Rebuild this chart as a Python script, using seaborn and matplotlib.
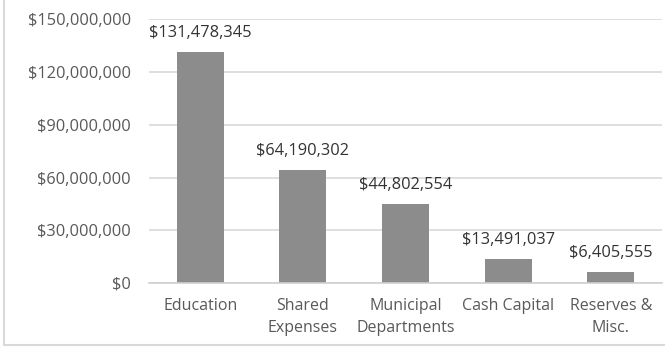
import matplotlib
matplotlib.use("Agg")
import matplotlib.pyplot as plt
import seaborn as sns
import pandas as pd
from matplotlib.ticker import FuncFormatter, FixedLocator
from matplotlib.lines import Line2D

categories = ["Education", "Shared\nExpenses", "Municipal\nDepartments", "Cash Capital", "Reserves &\nMisc."]
values = [131478345, 64190302, 44802554, 13491037, 6405555]
yticks = [0, 30000000, 60000000, 90000000, 120000000, 150000000]

df = pd.DataFrame({"category": categories, "value": values})

sns.set_theme(style="white")
plt.rcParams["font.family"] = ["Open Sans", "DejaVu Sans"]

fig = plt.figure(figsize=(6.65, 3.49), dpi=100)
ax = fig.add_axes([149/665, 1 - 283/349, (662-149)/665, (283-19.3)/349])

sns.barplot(data=df, x="category", y="value", color="#8c8c8c", width=0.46,
            saturation=1, ax=ax, edgecolor="none")

ax.set_ylim(0, 150000000)
ax.set_xlim(-0.5, len(categories) - 0.5)
ax.set_yticks(yticks)
ax.yaxis.set_major_formatter(FuncFormatter(lambda v, p: "${:,.0f}".format(v)))
ax.grid(axis="y", color="#d9d9d9", linewidth=1.2)
ax.set_axisbelow(True)
for s in ["top", "right", "left"]:
    ax.spines[s].set_visible(False)
ax.spines["bottom"].set_color("#d0d0d0")
ax.spines["bottom"].set_linewidth(1.2)

ax.tick_params(axis="y", length=0, pad=13, labelsize=11.8, labelcolor="#595959")
ax.tick_params(axis="x", which="major", length=0, pad=11, labelsize=11.5, labelcolor="#595959")
for lbl in ax.get_xticklabels():
    lbl.set_linespacing(1.45)
ax.xaxis.set_minor_locator(FixedLocator([i - 0.5 for i in range(len(categories) + 1)]))
ax.tick_params(axis="x", which="minor", length=5, color="#d0d0d0", width=1.2, direction="out")
ax.set_xlabel("")
ax.set_ylabel("")

for i, v in enumerate(values):
    ax.annotate("${:,.0f}".format(v), (i, v), xytext=(0, 8), textcoords="offset points",
                ha="center", va="bottom", fontsize=11.8, color="#333333")

fig.add_artist(Line2D([4/665, 4/665], [4/349, 1], color="#d9d9d9", linewidth=1.5, transform=fig.transFigure))
fig.add_artist(Line2D([4/665, 1], [4/349, 4/349], color="#d9d9d9", linewidth=1.5, transform=fig.transFigure))

fig.savefig("out.png", dpi=100, facecolor="white")
